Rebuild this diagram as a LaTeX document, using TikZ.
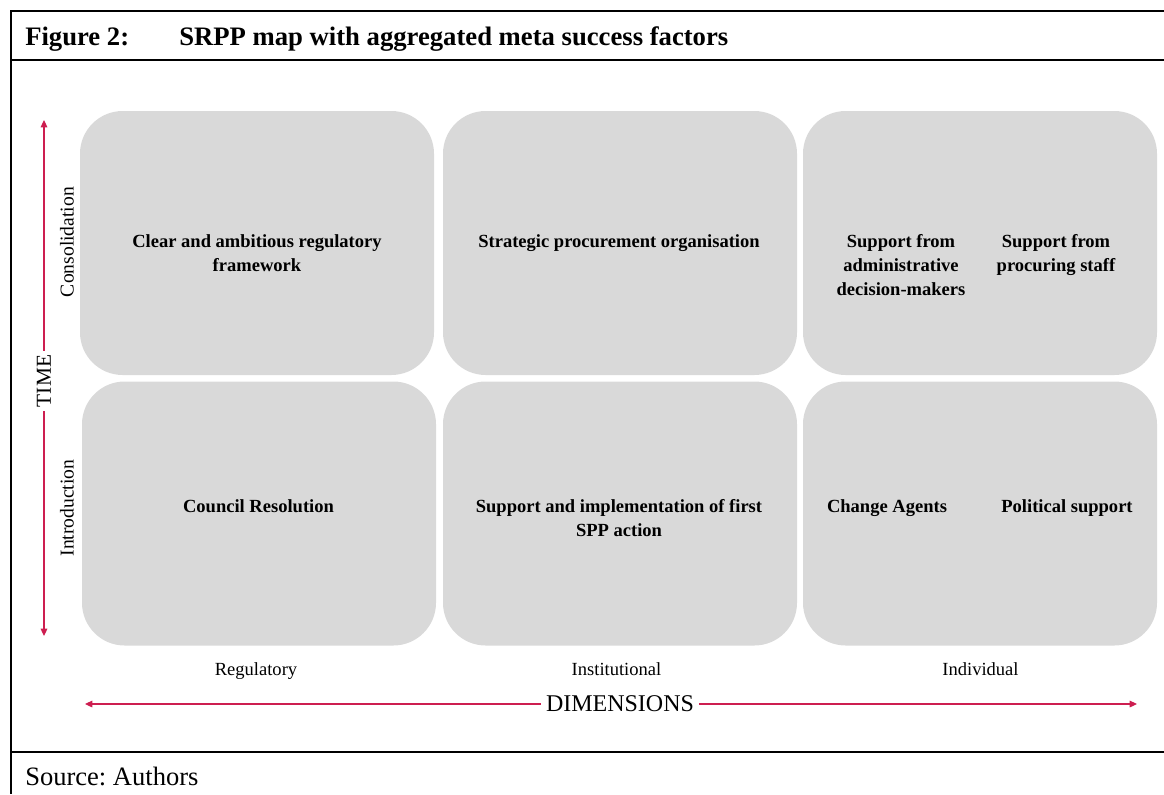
\documentclass[tikz,border=0pt]{standalone}
\usepackage{fontspec}
\setmainfont{Liberation Serif}
\usetikzlibrary{arrows.meta}
\usetikzlibrary{positioning}
\definecolor{axisred}{RGB}{205,30,80}
\definecolor{cellgray}{RGB}{217,217,217}
\frenchspacing

\begin{document}
\begin{tikzpicture}[x=0.75pt, y=-0.75pt,
        cell/.style={fill=cellgray, rounded corners=32pt, minimum width=265.5pt,
                minimum height=198pt, inner sep=0pt},
        celltext/.style={font=\fontsize{13.9}{18}\selectfont\bfseries, align=center,
                anchor=north, inner sep=0pt},
        headtext/.style={anchor=base west, inner sep=0pt},
        dimlabel/.style={font=\fontsize{13.9}{16}\selectfont, anchor=base},
        phaselabel/.style={font=\fontsize{14.7}{16}\selectfont, rotate=90},
        axislabel/.style={fill=white, inner sep=4pt},
        axis/.style={draw=axisred, line width=0.8pt,
                {Triangle[length=5.5pt,width=5pt]}-{Triangle[length=5.5pt,width=5pt]}},
        frame/.style={line width=1.5pt}]
        \useasboundingbox (0,0) rectangle (1164,794);

        \draw[frame] (1164,11) -- (11,11) -- (11,794);
        \draw[frame] (11,60) -- (1164,60);
        \draw[frame] (11,752) -- (1164,752);
        \node[headtext, font=\fontsize{20}{24}\selectfont\bfseries] (fig-num) at (25,45) {Figure 2:};
        \node[headtext, font=\fontsize{20}{24}\selectfont\bfseries] (fig-title) at (179,45) {SRPP map with aggregated meta success factors};
        \node[headtext, font=\fontsize{19.9}{24}\selectfont] (fig-source) at (25,785) {Source: Authors};

        \node[cell] (reg-cons) at (257,243) {};
        \node[cell] (inst-cons) at (620,243) {};
        \node[cell] (ind-cons) at (980,243) {};
        \node[cell] (reg-intro) at (259,513.5) {};
        \node[cell] (inst-intro) at (620,513.5) {};
        \node[cell] (ind-intro) at (980,513.5) {};

        \node[celltext] (reg-cons-text) at (257,234) {Clear and ambitious regulatory\\framework};
        \node[celltext] (inst-cons-text) at (619,234) {Strategic procurement organisation};
        \node[celltext] (admin-text) at (901,234) {Support from\\administrative\\decision-makers};
        \node[celltext] (staff-text) at (1056,234) {Support from\\procuring staff};
        \node[celltext] (reg-intro-text) at (258.5,499) {Council Resolution};
        \node[celltext] (inst-intro-text) at (619,499) {Support and implementation of first\\SPP action};
        \node[celltext] (agents-text) at (887,499) {Change Agents};
        \node[celltext] (political-text) at (1067,499) {Political support};

        \node[dimlabel] (regulatory) at (256,675) {Regulatory};
        \node[dimlabel] (institutional) at (616.5,675) {Institutional};
        \node[dimlabel] (individual) at (980.5,675) {Individual};

        \node[phaselabel] (consolidation) at (67,242) {Consolidation};
        \node[phaselabel] (introduction) at (67,508) {Introduction};

        \coordinate (time-top) at (44,120);
        \coordinate (time-bottom) at (44,636);
        \coordinate (dim-left) at (85,704);
        \coordinate (dim-right) at (1137,704);
        \draw[axis] (time-top) -- (time-bottom);
        \draw[axis] (dim-left) -- (dim-right);
        \node[axislabel, rotate=90, inner sep=3pt, font=\fontsize{16}{18}\selectfont] (time) at (44,381) {TIME};
        \node[axislabel, font=\fontsize{18}{20}\selectfont] (dimensions) at (620,704) {DIMENSIONS};
\end{tikzpicture}
\end{document}
